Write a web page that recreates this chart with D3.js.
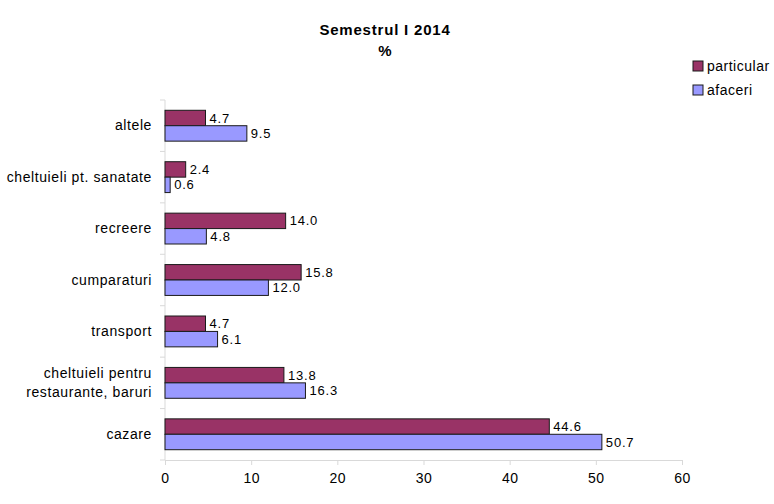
<!DOCTYPE html>
<html>
<head>
<meta charset="utf-8">
<script src="https://cdn.jsdelivr.net/npm/d3@7"></script>
<style>
  body { margin: 0; background: #fff; }
  text { font-family: "Liberation Sans", Arial, sans-serif; }
</style>
</head>
<body>
<div id="chart"></div>
<script>
// Data
const categories = ["altele", "cheltuieli pt. sanatate", "recreere", "cumparaturi", "transport",
                    "cheltuieli pentru\nrestaurante, baruri", "cazare"];
const particular = [4.7, 2.4, 14.0, 15.8, 4.7, 13.8, 44.6];
const afaceri = [9.5, 0.6, 4.8, 12.0, 6.1, 16.3, 50.7];
const seriesNames = ["particular", "afaceri"];
const seriesColors = ["#993366", "#9999FF"];
const xTicks = [0, 10, 20, 30, 40, 50, 60];

const width = 774, height = 504;
const margin = { top: 100, right: 92, bottom: 44, left: 165 };
const innerW = width - margin.left - margin.right;
const innerH = height - margin.top - margin.bottom;

const svg = d3.select("#chart").append("svg")
              .attr("width", width)
              .attr("height", height);

// Title
svg.append("text").attr("x", 385).attr("y", 35)
   .attr("text-anchor", "middle").style("font-size", "15px").style("font-weight", "bold")
   .style("letter-spacing", "0.8px")
   .text("Semestrul I 2014");
svg.append("text").attr("x", 385).attr("y", 56)
   .attr("text-anchor", "middle").style("font-size", "15px").style("font-weight", "bold")
   .text("%");

const g = svg.append("g").attr("transform", `translate(${margin.left}, ${margin.top})`);

// Scales
let x = d3.scaleLinear().domain([0, 60]).range([0, innerW]);
let y = d3.scaleBand().domain(categories).range([0, innerH]).paddingInner(0.4).paddingOuter(0.2);
let ySub = d3.scaleBand().domain(seriesNames).range([0, y.bandwidth()]);

// X axis
let xAxis = g.append("g")
             .attr("transform", `translate(0, ${innerH})`)
             .call(d3.axisBottom(x).tickValues(xTicks).tickSize(5).tickPadding(8));
xAxis.select(".domain").attr("stroke", "#d9d9d9");
xAxis.selectAll(".tick line").attr("stroke", "#d9d9d9");
xAxis.selectAll(".tick text").style("font-size", "14px").attr("fill", "#000")
     .style("letter-spacing", "0.5px")
     .style("font-family", "Liberation Sans, Arial, sans-serif");

// Y axis line and separator ticks
g.append("line").attr("x1", 0).attr("x2", 0).attr("y1", 0).attr("y2", innerH)
 .attr("stroke", "#d9d9d9");
d3.range(categories.length + 1).forEach(i => {
    g.append("line").attr("x1", -5).attr("x2", 0)
     .attr("y1", i * innerH / categories.length).attr("y2", i * innerH / categories.length)
     .attr("stroke", "#d9d9d9");
});

// Category labels
categories.forEach(c => {
    const lines = c.split("\n");
    const cy = y(c) + y.bandwidth() / 2;
    const t = g.append("text").attr("x", -13).attr("text-anchor", "end")
               .style("font-size", "14px").style("letter-spacing", "0.6px").attr("fill", "#000");
    lines.forEach((ln, i) => {
        t.append("tspan").attr("x", -13)
         .attr("y", cy + (i - (lines.length - 1) / 2) * 19 + 4.5)
         .text(ln);
    });
});

// Bars
seriesNames.forEach((s, si) => {
    const vals = si === 0 ? particular : afaceri;
    g.selectAll(`.bar-${s}`)
     .data(categories)
     .join("rect")
     .attr("x", 0)
     .attr("y", (d) => y(d) + ySub(s))
     .attr("width", (d, i) => x(vals[i]))
     .attr("height", ySub.bandwidth())
     .attr("fill", seriesColors[si])
     .attr("stroke", "#1a1a1a")
     .attr("stroke-width", 1);
    g.selectAll(`.lbl-${s}`)
     .data(categories)
     .join("text")
     .attr("x", (d, i) => x(vals[i]) + 4)
     .attr("y", (d) => y(d) + ySub(s) + ySub.bandwidth() / 2 + 4.5)
     .style("font-size", "13px").style("letter-spacing", "0.8px").attr("fill", "#000")
     .text((d, i) => vals[i].toFixed(1));
});

// Legend
const legend = svg.append("g").attr("transform", "translate(693, 61)");
seriesNames.forEach((s, i) => {
    legend.append("rect").attr("x", 0).attr("y", i * 24).attr("width", 10).attr("height", 10)
          .attr("fill", seriesColors[i]).attr("stroke", "#1a1a1a");
    legend.append("text").attr("x", 14).attr("y", i * 24 + 10)
          .style("font-size", "14px").style("letter-spacing", "0.5px").attr("fill", "#000").text(s);
});
</script>
</body>
</html>
